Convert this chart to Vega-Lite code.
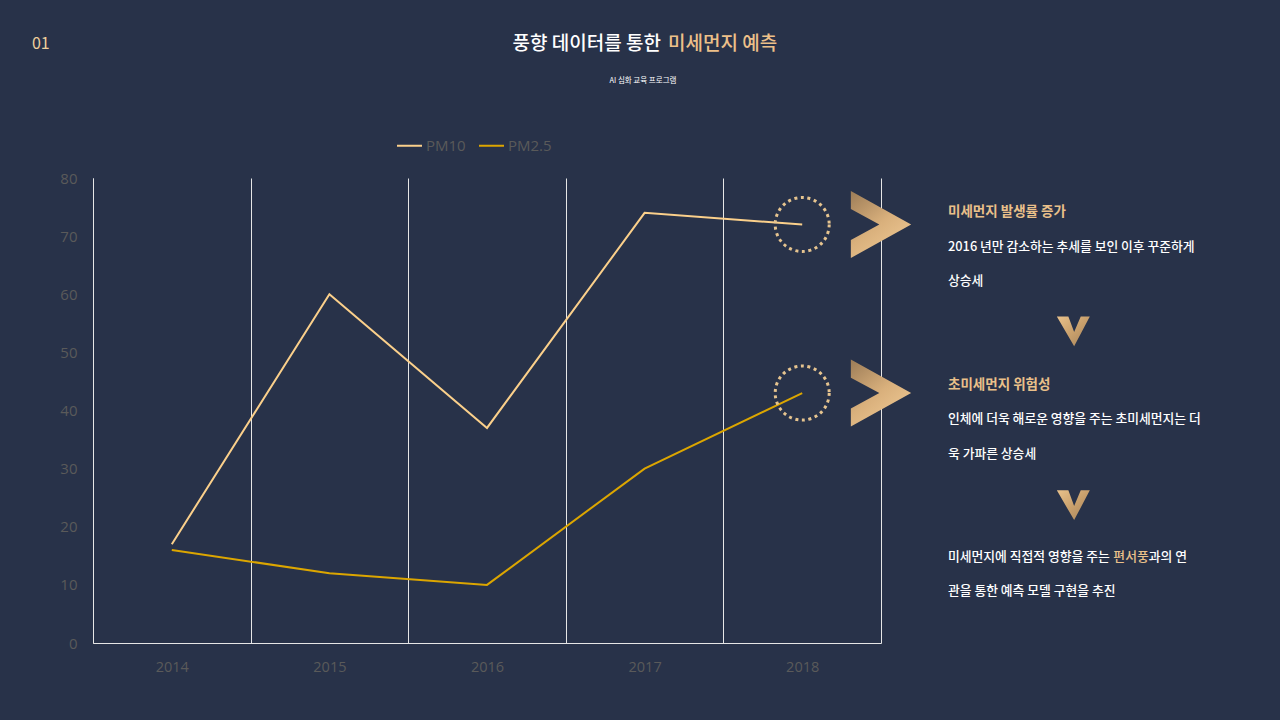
{
  "$schema": "https://vega.github.io/schema/vega-lite/v6.json",
  "padding": 0,
  "background": "#283249",
  "config": {"view": {"stroke": null}, "font": "Noto Sans CJK KR"},
  "datasets": {
    "pm": [
      {"year": "2014", "series": "PM10", "value": 17},
      {"year": "2015", "series": "PM10", "value": 60},
      {"year": "2016", "series": "PM10", "value": 37},
      {"year": "2017", "series": "PM10", "value": 74},
      {"year": "2018", "series": "PM10", "value": 72},
      {"year": "2014", "series": "PM2.5", "value": 16},
      {"year": "2015", "series": "PM2.5", "value": 12},
      {"year": "2016", "series": "PM2.5", "value": 10},
      {"year": "2017", "series": "PM2.5", "value": 30},
      {"year": "2018", "series": "PM2.5", "value": 43}
    ],
    "header": [
      {"part": "page", "text": "01", "line": 0},
      {"part": "title1", "text": "풍향 데이터를 통한", "line": 0},
      {"part": "title2", "text": "미세먼지 예측", "line": 0},
      {"part": "sub", "text": "AI 심화 교육 프로그램", "line": 1}
    ],
    "notes": [
      {"part": "head", "text": "미세먼지 발생률 증가", "line": 0},
      {"part": "body", "text": "2016 년만 감소하는 추세를 보인 이후 꾸준하게", "line": 1},
      {"part": "body", "text": "상승세", "line": 2},
      {"part": "arrow", "text": "", "line": 3.45},
      {"part": "head", "text": "초미세먼지 위험성", "line": 5},
      {"part": "body", "text": "인체에 더욱 해로운 영향을 주는 초미세먼지는 더", "line": 6},
      {"part": "body", "text": "욱 가파른 상승세", "line": 7},
      {"part": "arrow", "text": "", "line": 8.5},
      {"part": "body", "text": "미세먼지에 직접적 영향을 주는", "line": 10},
      {"part": "accent", "text": "편서풍", "line": 10},
      {"part": "tail", "text": "과의 연", "line": 10},
      {"part": "body", "text": "관을 통한 예측 모델 구현을 추진", "line": 11}
    ]
  },
  "bounds": "full",
  "align": "none",
  "columns": 1,
  "spacing": 12,
  "resolve": {"scale": {"color": "independent"}, "legend": {"color": "independent"}},
  "concat": [
    {
      "width": 1187,
      "height": 120,
      "data": {"name": "header"},
      "layer": [
        {
          "transform": [{"filter": "datum.part == 'page'"}],
          "mark": {"type": "text", "align": "left", "baseline": "middle", "fontSize": 16, "color": "#efcf9c", "font": "Noto Sans CJK KR"},
          "encoding": {
            "x": {"datum": 0.025, "type": "quantitative", "scale": {"domain": [0.07266, 1]}, "axis": null},
            "y": {"field": "line", "type": "quantitative", "scale": {"domain": [2.05, -1.19]}, "axis": null},
            "text": {"field": "text"}
          }
        },
        {
          "transform": [{"filter": "datum.part == 'title1'"}],
          "mark": {"type": "text", "align": "right", "baseline": "middle", "fontSize": 19, "fontWeight": 500, "color": "#ffffff", "font": "Noto Sans CJK KR"},
          "encoding": {
            "x": {"datum": 0.5164, "type": "quantitative", "scale": {"domain": [0.07266, 1]}, "axis": null},
            "y": {"field": "line", "type": "quantitative", "scale": {"domain": [2.05, -1.19]}, "axis": null},
            "text": {"field": "text"}
          }
        },
        {
          "transform": [{"filter": "datum.part == 'title2'"}],
          "mark": {"type": "text", "align": "left", "baseline": "middle", "fontSize": 19, "fontWeight": 500, "color": "#edc089", "font": "Noto Sans CJK KR"},
          "encoding": {
            "x": {"datum": 0.5219, "type": "quantitative", "scale": {"domain": [0.07266, 1]}, "axis": null},
            "y": {"field": "line", "type": "quantitative", "scale": {"domain": [2.05, -1.19]}, "axis": null},
            "text": {"field": "text"}
          }
        },
        {
          "transform": [{"filter": "datum.part == 'sub'"}],
          "mark": {"type": "text", "align": "center", "baseline": "middle", "fontSize": 7.5, "color": "#ffffff", "font": "Noto Sans CJK KR"},
          "encoding": {
            "x": {"datum": 0.5023, "type": "quantitative", "scale": {"domain": [0.07266, 1]}, "axis": null},
            "y": {"field": "line", "type": "quantitative", "scale": {"domain": [2.05, -1.19]}, "axis": null},
            "text": {"field": "text"}
          }
        }
      ]
    },
    {
      "bounds": "flush",
      "spacing": 67,
      "resolve": {"scale": {"color": "independent"}, "legend": {"color": "independent"}},
      "hconcat": [
        {
          "width": 788,
          "height": 465,
          "data": {"name": "pm"},
          "layer": [
            {
              "mark": {"type": "line", "strokeWidth": 2},
              "encoding": {
                "x": {
                  "field": "year", "type": "ordinal",
                  "scale": {"type": "band", "paddingInner": 0, "paddingOuter": 0},
                  "axis": {"title": null, "tickBand": "extent", "grid": true, "gridColor": "#e6e6e6", "gridWidth": 1, "ticks": false, "domainColor": "#e6e6e6", "domainWidth": 1, "labelColor": "#5a5a5a", "labelFont": "Open Sans", "labelFontSize": 14.5, "labelPadding": 17, "labelAngle": 0, "minExtent": 77, "maxExtent": 77}
                },
                "y": {
                  "field": "value", "type": "quantitative",
                  "scale": {"domain": [0, 80], "nice": false},
                  "axis": {"title": null, "values": [0, 10, 20, 30, 40, 50, 60, 70, 80], "grid": false, "ticks": false, "domainColor": "#e6e6e6", "domainWidth": 1, "labelColor": "#5a5a5a", "labelFont": "Open Sans", "labelFontSize": 15, "labelPadding": 16, "minExtent": 93, "maxExtent": 93}
                },
                "color": {
                  "field": "series", "type": "nominal",
                  "scale": {"domain": ["PM10", "PM2.5"], "range": ["#fbd08b", "#dca600"]},
                  "legend": {"title": null, "orient": "none", "legendX": 303, "legendY": -46, "direction": "horizontal", "symbolType": "stroke", "symbolSize": 625, "symbolStrokeWidth": 2, "labelColor": "#5a5a5a", "labelFont": "Open Sans", "labelFontSize": 15, "labelOffset": 3, "columnPadding": 9}
                }
              }
            },
            {
              "transform": [{"filter": "datum.year == '2018'"}],
              "mark": {"type": "point", "shape": "circle", "size": 2916, "filled": false, "stroke": "#e6c48f", "strokeWidth": 3, "strokeDash": [3, 3.6], "opacity": 1},
              "encoding": {
                "x": {"field": "year", "type": "ordinal"},
                "y": {"field": "value", "type": "quantitative"}
              }
            },
            {
              "transform": [{"filter": "datum.year == '2018'"}],
              "mark": {
                "type": "point",
                "shape": "M-0.9,-1 L0.9,0 L-0.9,1 L-0.9,0.46 L-0.05,0 L-0.9,-0.46 Z",
                "size": 4489, "filled": true, "opacity": 1, "strokeWidth": 0,
                "fill": {"gradient": "linear", "x1": 0, "y1": 0, "x2": 0.7, "y2": 1, "stops": [{"offset": 0, "color": "#9c7c57"}, {"offset": 0.55, "color": "#d9b07c"}, {"offset": 1, "color": "#eec893"}]}
              },
              "encoding": {
                "x": {"field": "year", "type": "ordinal", "bandPosition": 1},
                "y": {"field": "value", "type": "quantitative"}
              }
            }
          ]
        },
        {
          "width": 260,
          "height": 465,
          "data": {"name": "notes"},
          "layer": [
            {
              "transform": [{"filter": "datum.part == 'head'"}],
              "mark": {"type": "text", "align": "left", "baseline": "middle", "fontSize": 13.5, "fontWeight": "bold", "color": "#eac08a", "font": "Noto Sans CJK KR"},
              "encoding": {
                "x": {"datum": 0, "type": "quantitative", "scale": {"domain": [0, 1]}, "axis": null},
                "y": {"field": "line", "type": "quantitative", "scale": {"domain": [12.5, -1]}, "axis": null},
                "text": {"field": "text"}
              }
            },
            {
              "transform": [{"filter": "datum.part == 'body'"}],
              "mark": {"type": "text", "align": "left", "baseline": "middle", "fontSize": 12.8, "fontWeight": 500, "color": "#ffffff", "font": "Noto Sans CJK KR"},
              "encoding": {
                "x": {"datum": 0, "type": "quantitative", "scale": {"domain": [0, 1]}, "axis": null},
                "y": {"field": "line", "type": "quantitative", "scale": {"domain": [12.5, -1]}, "axis": null},
                "text": {"field": "text"}
              }
            },
            {
              "transform": [{"filter": "datum.part == 'accent'"}],
              "mark": {"type": "text", "align": "left", "baseline": "middle", "fontSize": 12.8, "fontWeight": 500, "color": "#eac08a", "font": "Noto Sans CJK KR"},
              "encoding": {
                "x": {"datum": 0.636, "type": "quantitative", "scale": {"domain": [0, 1]}, "axis": null},
                "y": {"field": "line", "type": "quantitative", "scale": {"domain": [12.5, -1]}, "axis": null},
                "text": {"field": "text"}
              }
            },
            {
              "transform": [{"filter": "datum.part == 'tail'"}],
              "mark": {"type": "text", "align": "left", "baseline": "middle", "fontSize": 12.8, "fontWeight": 500, "color": "#ffffff", "font": "Noto Sans CJK KR"},
              "encoding": {
                "x": {"datum": 0.772, "type": "quantitative", "scale": {"domain": [0, 1]}, "axis": null},
                "y": {"field": "line", "type": "quantitative", "scale": {"domain": [12.5, -1]}, "axis": null},
                "text": {"field": "text"}
              }
            },
            {
              "transform": [{"filter": "datum.part == 'arrow'"}],
              "mark": {
                "type": "point",
                "shape": "M-1,-0.9 L-0.3,-0.9 L0.05,0.05 L0.45,-0.9 L1,-0.9 L0.05,0.9 Z",
                "size": 1089, "filled": true, "opacity": 1, "strokeWidth": 0,
                "fill": {"gradient": "linear", "x1": 0, "y1": 0, "x2": 1, "y2": 1, "stops": [{"offset": 0, "color": "#e9c28c"}, {"offset": 0.5, "color": "#c9a06c"}, {"offset": 1, "color": "#a5845d"}]}
              },
              "encoding": {
                "x": {"datum": 0.482, "type": "quantitative", "scale": {"domain": [0, 1]}, "axis": null},
                "y": {"field": "line", "type": "quantitative", "scale": {"domain": [12.5, -1]}, "axis": null}
              }
            }
          ]
        }
      ]
    }
  ]
}
